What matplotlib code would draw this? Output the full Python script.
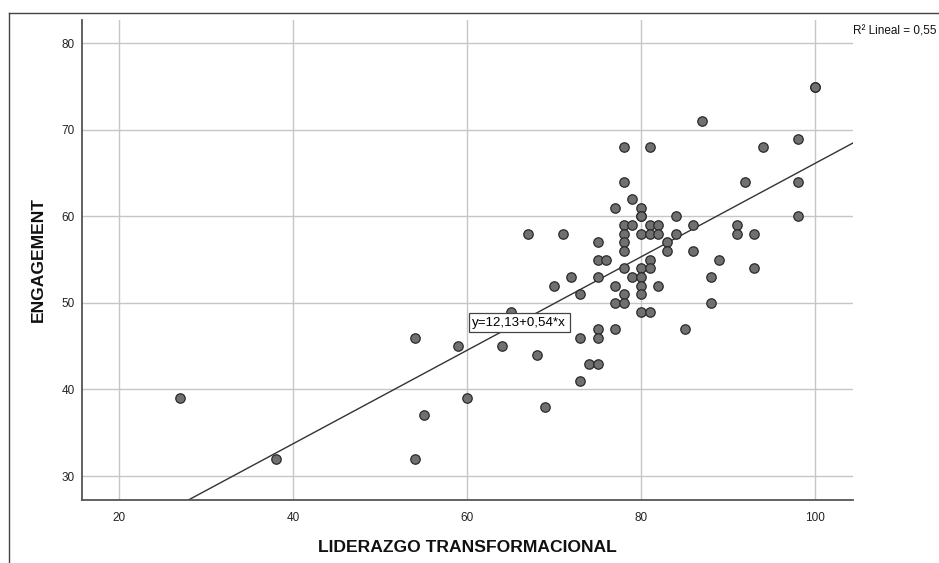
import matplotlib
matplotlib.use("Agg")
import matplotlib.pyplot as plt
from matplotlib.lines import Line2D

plt.rcParams['font.family'] = ['Liberation Sans', 'DejaVu Sans']

# Data
liderazgo = [27, 38, 54, 54, 55, 59, 60, 64, 65, 67, 68, 69, 70, 71, 72, 73, 73, 73,
             74, 75, 75, 75, 75, 75, 75, 76, 77, 77, 77, 77,
             78, 78, 78, 78, 78, 78, 78, 78, 78, 79, 79, 79,
             80, 80, 80, 80, 80, 80, 80, 80, 80, 81, 81, 81, 81, 81, 81,
             82, 82, 82, 83, 83, 84, 84, 85, 86, 86, 87, 88, 88, 89,
             91, 91, 92, 93, 93, 94, 98, 98, 98, 100, 100]
engagement = [39, 32, 46, 32, 37, 45, 39, 45, 49, 58, 44, 38, 52, 58, 53, 51, 46, 41,
              43, 57, 55, 53, 47, 46, 43, 55, 61, 52, 50, 47,
              68, 64, 59, 58, 57, 56, 54, 51, 50, 62, 59, 53,
              61, 60, 60, 58, 54, 53, 52, 51, 49, 68, 59, 58, 55, 54, 49,
              59, 58, 52, 57, 56, 60, 58, 47, 59, 56, 71, 53, 50, 55,
              59, 58, 64, 58, 54, 68, 69, 64, 60, 75, 75]
intercept = 12.13
slope = 0.54
r2 = "0,55"
eq_label = "y=12,13+0,54*x"
x_ticks = [20, 40, 60, 80, 100]
y_ticks = [30, 40, 50, 60, 70, 80]

W, H = 939, 563
fig = plt.figure(figsize=(W / 100, H / 100), dpi=100)
fig.patch.set_facecolor('white')

left, right, top, bottom = 81.7, 853.3, 20, 500
ax = fig.add_axes([left / W, 1 - bottom / H, (right - left) / W, (bottom - top) / H])
xlim = (15.7, 104.4)
ylim = (27.23, 82.7)
ax.set_xlim(*xlim)
ax.set_ylim(*ylim)

ax.set_xticks(x_ticks)
ax.set_yticks(y_ticks)
ax.grid(True, color='#c6c6c6', linewidth=1.0, zorder=0)
ax.set_axisbelow(True)
ax.tick_params(axis='both', length=0, labelsize=8.5, colors='#222222')
ax.tick_params(axis='x', pad=8.5)
ax.tick_params(axis='y', pad=5)

for s in ['top', 'right']:
    ax.spines[s].set_visible(False)
for s in ['left', 'bottom']:
    ax.spines[s].set_color('#555555')
    ax.spines[s].set_linewidth(1.3)

# Regression line
xs = [xlim[0], xlim[1]]
ys = [intercept + slope * v for v in xs]
ax.plot(xs, ys, color='#333333', linewidth=1.0, zorder=2)

ax.scatter(liderazgo, engagement, s=46, facecolor='#707070', edgecolor='#2a2a2a',
           linewidth=0.9, zorder=3)

ax.text(66.0, 47.73, eq_label, fontsize=9.6, ha='center', va='center', zorder=5,
        bbox=dict(boxstyle='square,pad=0.25', facecolor='white', edgecolor='#444444', linewidth=0.9))

ax.set_xlabel('LIDERAZGO TRANSFORMACIONAL', fontsize=12.6, fontweight='bold',
              labelpad=12, color='#111111')
ax.set_ylabel('ENGAGEMENT', fontsize=12.6, fontweight='bold', labelpad=11, color='#111111')

fig.text(853 / W, 1 - 31 / H, 'R² Lineal = ' + r2, fontsize=8.5, ha='left', va='center',
         color='#111111')

# Outer frame (left and top edges)
fig.add_artist(Line2D([9 / W, 9 / W], [0, 1 - 13 / H], transform=fig.transFigure,
                      color='#444444', linewidth=1.0))
fig.add_artist(Line2D([9 / W, 1], [1 - 13 / H, 1 - 13 / H], transform=fig.transFigure,
                      color='#444444', linewidth=1.0))

fig.savefig('out.png', dpi=100)
